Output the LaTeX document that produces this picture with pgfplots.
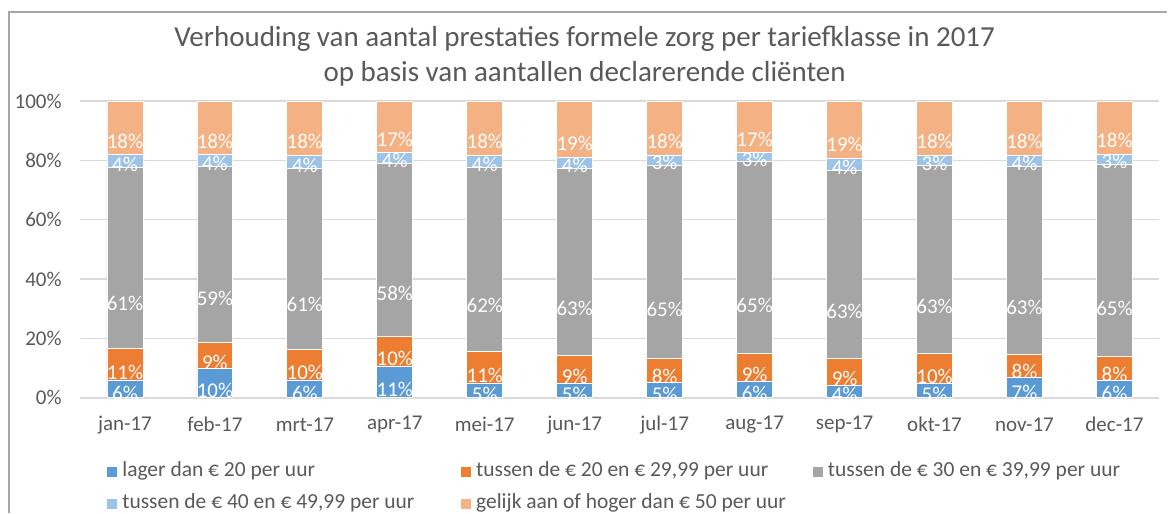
\documentclass[border=0pt]{standalone}
\usepackage{fontspec}
\setmainfont{Carlito}
\usepackage{pgfplots}
\usepackage{pgfplotstable}
\pgfplotsset{compat=1.18}

\definecolor{cblue}{HTML}{5B9BD5}
\definecolor{corange}{HTML}{ED7D31}
\definecolor{cgray}{HTML}{A5A5A5}
\definecolor{clblue}{HTML}{9DC3E6}
\definecolor{cpeach}{HTML}{F4B183}
\definecolor{textgray}{HTML}{595959}
\definecolor{gridgray}{HTML}{D9D9D9}
\definecolor{framegray}{HTML}{A6A6A6}

% share per month, in percent
\pgfplotstableread{
x  a    b    c    d   e
0  5.8  10.9 61.0 4.3 18.0
1  9.8  8.7  59.4 4.0 18.1
2  6.0  10.4 60.8 4.4 18.4
3  10.6 10.0 58.4 3.8 17.2
4  4.8  10.7 62.1 4.0 18.4
5  5.0  9.3  63.1 3.6 19.0
6  5.2  8.2  65.0 3.4 18.2
7  5.6  9.2  64.9 3.0 17.3
8  4.2  9.1  63.4 3.9 19.4
9  4.8  10.0 63.4 3.4 18.4
10 6.9  7.7  63.4 3.8 18.2
11 5.9  8.1  64.7 3.4 17.9
}\data

% the shift below is doubled somewhere, hence 0.25 for the middle of a segment
\pgfplotsset{
  seg/.style={fill=#1, draw=white, line width=0.4pt},
  mid/.style={visualization depends on={0.25*\thisrow{#1}\as\val}},
}

\begin{document}
\begin{tikzpicture}
\path (-40pt,-57.5pt) rectangle (544pt,199pt);
\draw[framegray, line width=0.6pt] (-35.5pt,-57.5pt) -- (-35.5pt,193pt) -- (544pt,193pt);
\node[text=textgray, align=center, font=\fontsize{14.5}{17.5}\selectfont] at (252.5pt,170.75pt)
  {Verhouding van aantal prestaties formele zorg per tariefklasse in 2017\\op basis van aantallen declarerende cliënten};
\begin{axis}[
  at={(0,0)}, anchor=south west,
  scale only axis, width=540pt, height=148.5pt,
  set layers,
  ybar stacked, bar width=18pt,
  xmin=-0.5, xmax=11.5, ymin=0, ymax=100,
  xtick={0,...,11},
  xticklabels={jan-17,feb-17,mrt-17,apr-17,mei-17,jun-17,jul-17,aug-17,sep-17,okt-17,nov-17,dec-17},
  ytick={0,20,...,100},
  yticklabel={\pgfmathprintnumber{\tick}\%},
  ymajorgrids, grid style={draw=gridgray, line width=0.75pt},
  axis line style={draw=none}, major tick length=0pt,
  tick label style={font=\fontsize{10.5}{12}\selectfont, text=textgray},
  yticklabel style={inner sep=0pt, anchor=east, xshift=-9pt},
  xticklabel style={inner sep=0pt, anchor=center, yshift=-13.5pt},
  /pgf/number format/assume math mode=true,
  point meta=explicit,
  nodes near coords={\pgfmathprintnumber[fixed,precision=0]{\pgfplotspointmeta}\%},
  every node near coord/.append style={text=white, inner sep=0pt, anchor=center,
    font=\fontsize{10.5}{12}\selectfont, shift={(axis direction cs:0,-\val)},
    /pgfplots/on layer=axis foreground},
  legend columns=3,
  legend image code/.code={\fill[#1, draw=none] (0pt,-2.5pt) rectangle (5pt,2.5pt);},
  legend style={at={(rel axis cs:0.025,-0.217)}, anchor=north west, draw=none, fill=none,
    font=\fontsize{10.75}{12}\selectfont, text=textgray, inner sep=0pt,
    nodes={inner sep=0pt, text height=7pt, text depth=2pt}, row sep=7pt,
    /tikz/every odd column/.append style={column sep=2.5pt}},
]
\addplot[seg=cblue, mid=a] table[x=x, y=a, meta=a] {\data};
\addlegendentry{\makebox[169.5pt][l]{lager dan € 20 per uur}}
\addplot[seg=corange, mid=b] table[x=x, y=b, meta=b] {\data};
\addlegendentry{\makebox[168.5pt][l]{tussen de € 20 en € 29,99 per uur}}
\addplot[seg=cgray, mid=c] table[x=x, y=c, meta=c] {\data};
\addlegendentry{\makebox[155pt][l]{tussen de € 30 en € 39,99 per uur}}
\addplot[seg=clblue, mid=d] table[x=x, y=d, meta=d] {\data};
\addlegendentry{\makebox[169.5pt][l]{tussen de € 40 en € 49,99 per uur}}
\addplot[seg=cpeach, mid=e] table[x=x, y=e, meta=e] {\data};
\addlegendentry{\makebox[168.5pt][l]{gelijk aan of hoger dan € 50 per uur}}
\end{axis}
\end{tikzpicture}
\end{document}
